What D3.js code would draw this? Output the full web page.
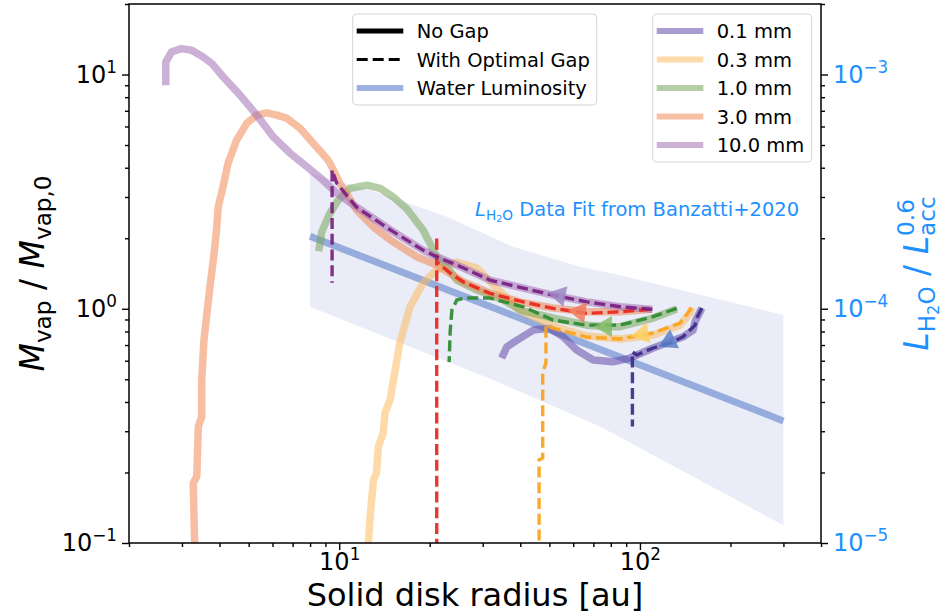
<!DOCTYPE html>
<html><head><meta charset="utf-8">
<script src="https://cdn.jsdelivr.net/npm/d3@7"></script>
<style>body{margin:0;background:#fff}text{font-family:"DejaVu Sans";}</style>
</head><body>
<svg id="c" width="948" height="615"></svg>
<script>
// ---------------- data ----------------
const sizeLabels = ["0.1 mm", "0.3 mm", "1.0 mm", "3.0 mm", "10.0 mm"];
const styleLabels = ["No Gap", "With Optimal Gap", "Water Luminosity"];

// No gap (solid) trajectories: radius [au], Mvap/Mvap0
const ng01R = [160.6, 152.5, 150.2, 139.1, 125.9, 110.6, 92.7, 81.4, 69.9, 61.6, 55.6, 50.2, 44.2, 39.9, 36.1, 34.7];
const ng01M = [1.007, 0.880, 0.811, 0.759, 0.723, 0.680, 0.616, 0.594, 0.604, 0.667, 0.759, 0.825, 0.811, 0.747, 0.688, 0.616];
const ng03R = [148.7, 146.8, 136, 110.6, 85.9, 66.6, 51.4, 39.9, 33.4, 28.7, 24.6, 21.1, 19.0, 17.2, 15.9, 14.76, 14.2, 14.0, 13.5, 13.3, 13.0, 12.7, 12.5, 12.5];
const ng03M = [1.01, 0.958, 0.851, 0.773, 0.743, 0.765, 0.844, 0.987, 1.225, 1.492, 1.582, 1.463, 1.287, 1.02, 0.714, 0.408, 0.359, 0.295, 0.258, 0.199, 0.186, 0.134, 0.1, 0.08];
const ng10R = [132.6, 110.6, 85.9, 77.6, 66.6, 51.4, 39.9, 35.1, 28.7, 24.6, 22.8, 21.1, 20.3, 19.0, 16.8, 15.1, 13.7, 12.35, 10.87, 9.93, 9.32, 8.75, 8.55];
const ng10M = [0.997, 0.913, 0.838, 0.838, 0.851, 0.913, 0.987, 1.089, 1.202, 1.326, 1.511, 1.667, 1.839, 2.17, 2.665, 3.006, 3.265, 3.37, 3.265, 2.91, 2.56, 2.13, 1.76];
const ng30R = [109.5, 85.9, 66.6, 51.4, 39.9, 31.7, 25.8, 21.1, 18.1, 14.8, 12.96, 11.43, 10.06, 9.32, 9.09, 8.18, 7.41, 6.69, 6.20, 5.74, 5.32, 4.93, 4.56, 4.27, 4.11, 3.96, 3.91, 3.83, 3.69, 3.55, 3.49, 3.49, 3.40, 3.36, 3.27, 3.32];
const ng30M = [0.994, 0.971, 0.971, 1.007, 1.07, 1.167, 1.304, 1.537, 1.667, 1.965, 2.24, 2.64, 3.43, 4.18, 4.38, 5.10, 5.90, 6.51, 6.71, 6.86, 6.71, 6.20, 5.25, 4.18, 3.32, 2.72, 2.17, 1.695, 1.144, 0.735, 0.496, 0.346, 0.314, 0.192, 0.180, 0.08];
const ng100R = [110, 86, 66.6, 51.4, 40.9, 31.7, 24.6, 21.1, 19.0, 14.8, 11.4, 9.81, 8.84, 7.80, 6.86, 6.03, 5.32, 4.68, 4.11, 3.77, 3.52, 3.23, 2.99, 2.77, 2.65, 2.65];
const ng100M = [0.994, 1.02, 1.07, 1.144, 1.225, 1.326, 1.537, 1.667, 1.78, 2.17, 2.72, 3.12, 3.54, 4.04, 4.62, 5.42, 6.71, 8.17, 9.78, 11.15, 11.9, 12.7, 12.9, 12.5, 11.3, 9.0];

// With optimal gap (dashed) trajectories
const g01R = [160.6, 154.5, 152.5, 139.1, 125.9, 110.6, 97.6, 94.4, 94.4];
const g01M = [1.007, 0.913, 0.851, 0.759, 0.714, 0.680, 0.635, 0.654, 0.314];
const g03R = [148.7, 146.8, 136, 110.6, 85.9, 66.6, 51.4, 48.7, 48.7, 47.5, 47.5, 46.2, 46.2];
const g03M = [1.01, 0.987, 0.869, 0.788, 0.743, 0.757, 0.827, 0.844, 0.586, 0.537, 0.231, 0.226, 0.08];
const g10R = [132.6, 110.6, 85.9, 66.6, 51.4, 40.9, 31.7, 26.2, 24.6, 23.7, 23.4, 23.2];
const g10M = [1.004, 0.925, 0.851, 0.851, 0.895, 1.02, 1.111, 1.111, 1.089, 0.987, 0.811, 0.592];
const g30R = [108, 85.9, 66.6, 51.4, 40.9, 31.7, 25.8, 23.4, 21.1, 21.1, 21.1];
const g30M = [0.994, 0.971, 0.956, 1.004, 1.07, 1.163, 1.304, 1.42, 1.582, 2.04, 0.08];
const g100R = [110, 86, 66.6, 51.4, 40.9, 31.7, 24.6, 21.1, 19.0, 14.8, 11.4, 9.81, 9.47, 9.47];
const g100M = [0.994, 1.02, 1.07, 1.144, 1.225, 1.326, 1.537, 1.667, 1.78, 2.17, 2.72, 3.44, 3.91, 1.29];

// direction arrows on the gap trajectories
const arrowR = [125, 102, 77, 63, 54];
const arrowM = [0.725, 0.78, 0.84, 0.968, 1.141];

// Water luminosity fit (right axis) and its band
const waterR = [8, 300];
const waterL = [2.04e-4, 3.32e-5];
const bandHiR = [8, 13.7, 22.8, 37.8, 63.2, 85.9, 300];
const bandHi = [3.79e-4, 3.11e-4, 2.47e-4, 1.84e-4, 1.51e-4, 1.39e-4, 9.4e-5];
const bandLoR = [8, 32.5, 73.7, 300];
const bandLo = [1.02e-4, 4.96e-5, 3.14e-5, 1.19e-5];

// ticks
const xMajor = [10, 100], xMajorExp = ["1", "2"];
const yMajor = [0.1, 1, 10], yMajorExp = ["\u22121", "0", "1"];
const yRMajor = [1e-5, 1e-4, 1e-3], yRMajorExp = ["\u22125", "\u22124", "\u22123"];

// ---------------- styles ----------------
const solidCol = ["#634ba8", "#fbbc61", "#78a65b", "#f08956", "#a26fb4"];
const dashCol = ["#3d2b8a", "#f9a31a", "#2b8a2e", "#e8261e", "#7a1e82"];
const arrowCol = ["#5a82c8", "#fbd064", "#86bc68", "#f07b5c", "#9c88c6"];
const blue = "#1e90ff";
const FS_TICK = 24, FS_LAB = 32, FS_LEG = 19.5;

const svg = d3.select("#c");
const L = 129, R = 821, T = 4, B = 543;
const x = d3.scaleLog().domain([2, 400]).range([L, R]);
const y = d3.scaleLog().domain([0.1, 20]).range([B, T]);
const yR = d3.scaleLog().domain([1e-5, 2e-3]).range([B, T]);

svg.append("defs").append("clipPath").attr("id", "clip")
  .append("rect").attr("x", L).attr("y", T).attr("width", R - L).attr("height", B - T);
const plot = svg.append("g").attr("clip-path", "url(#clip)");

// band
const bandPts = bandHiR.map((r, i) => [x(r), yR(bandHi[i])])
  .concat(bandLoR.map((r, i) => [x(r), yR(bandLo[i])]).reverse());
plot.append("path").attr("d", d3.line()(bandPts) + "Z").attr("fill", "#eaecf7");

// water luminosity line
const lineR = d3.line().x(d => x(d[0])).y(d => yR(d[1]));
plot.append("path").attr("d", lineR(waterR.map((r, i) => [r, waterL[i]])))
  .attr("fill", "none").attr("stroke", "#6f8ed0").attr("stroke-opacity", 0.68).attr("stroke-width", 7);

const line = d3.line().x(d => x(d[0])).y(d => y(d[1]));
const ngR = [ng01R, ng03R, ng10R, ng30R, ng100R], ngM = [ng01M, ng03M, ng10M, ng30M, ng100M];
const gR = [g01R, g03R, g10R, g30R, g100R], gM = [g01M, g03M, g10M, g30M, g100M];

ngR.forEach((rs, k) => {
  plot.append("path").attr("d", line(rs.map((r, i) => [r, ngM[k][i]])))
    .attr("fill", "none").attr("stroke", solidCol[k]).attr("stroke-opacity", 0.55)
    .attr("stroke-width", 7.5).attr("stroke-linejoin", "round");
});
gR.forEach((rs, k) => {
  plot.append("path").attr("d", line(rs.map((r, i) => [r, gM[k][i]])))
    .attr("fill", "none").attr("stroke", dashCol[k]).attr("stroke-opacity", 0.92)
    .attr("stroke-width", 3.4).attr("stroke-dasharray", "11,4.8");
});
// arrows
arrowR.forEach((ar, k) => {
  const px = x(ar), py = y(arrowM[k]);
  const pts = gR[k].map((r, i) => [x(r), y(gM[k][i])]);
  let best = 0, bd = 1e9;
  for (let i = 0; i < pts.length - 1; i++) {
    const mx = (pts[i][0] + pts[i + 1][0]) / 2, my = (pts[i][1] + pts[i + 1][1]) / 2;
    const dd = (mx - px) ** 2 + (my - py) ** 2;
    if (dd < bd && Math.abs(pts[i + 1][0] - pts[i][0]) > 1) { bd = dd; best = i; }
  }
  const ang = Math.atan2(pts[best + 1][1] - pts[best][1], pts[best + 1][0] - pts[best][0]) * 180 / Math.PI;
  plot.append("path").attr("d", d3.symbol(d3.symbolTriangle, 190)())
    .attr("transform", `translate(${px},${py}) rotate(${ang + 90})`)
    .attr("fill", arrowCol[k]).attr("fill-opacity", 0.85);
});

// ---------------- axes ----------------
function supLabels(sel, exps) {
  sel.selectAll(".tick text").each(function (d, i) {
    const t = d3.select(this); t.text(null);
    t.append("tspan").text("10");
    t.append("tspan").attr("dy", -0.42 * FS_TICK).attr("font-size", 0.7 * FS_TICK).text(exps[i]);
  });
}
function minorTicks(lo, hi) {
  const out = [];
  for (let e = Math.floor(Math.log10(lo)); e <= Math.ceil(Math.log10(hi)); e++)
    for (let m = 2; m <= 9; m++) { const v = m * Math.pow(10, e); if (v >= lo * 0.999 && v <= hi * 1.001) out.push(v); }
  return out;
}
const axStyle = g => { g.select(".domain").remove(); g.selectAll("line").attr("stroke", "#000").attr("stroke-width", 1.4); };

svg.append("g").attr("transform", `translate(0,${B})`)
  .call(d3.axisBottom(x).tickValues(minorTicks(2, 400)).tickSize(4).tickFormat("")).call(axStyle);
const xa = svg.append("g").attr("transform", `translate(0,${B})`)
  .call(d3.axisBottom(x).tickValues(xMajor).tickSize(7).tickPadding(3)).call(axStyle);
xa.selectAll("text").attr("font-size", FS_TICK).attr("fill", "#000").attr("font-family", "DejaVu Sans");
supLabels(xa, xMajorExp);

svg.append("g").attr("transform", `translate(${L},0)`)
  .call(d3.axisLeft(y).tickValues(minorTicks(0.1, 20)).tickSize(4).tickFormat("")).call(axStyle);
const ya = svg.append("g").attr("transform", `translate(${L},0)`)
  .call(d3.axisLeft(y).tickValues(yMajor).tickSize(7).tickPadding(5)).call(axStyle);
ya.selectAll("text").attr("font-size", FS_TICK).attr("fill", "#000").attr("font-family", "DejaVu Sans");
supLabels(ya, yMajorExp);

svg.append("g").attr("transform", `translate(${R},0)`)
  .call(d3.axisRight(yR).tickValues(minorTicks(1e-5, 2e-3)).tickSize(4).tickFormat("")).call(axStyle);
const yra = svg.append("g").attr("transform", `translate(${R},0)`)
  .call(d3.axisRight(yR).tickValues(yRMajor).tickSize(7).tickPadding(5)).call(axStyle);
yra.selectAll("text").attr("font-size", FS_TICK).attr("fill", blue).attr("font-family", "DejaVu Sans");
supLabels(yra, yRMajorExp);

svg.append("rect").attr("x", L).attr("y", T).attr("width", R - L).attr("height", B - T)
  .attr("fill", "none").attr("stroke", "#000").attr("stroke-width", 1.5);

// ---------------- labels ----------------
// parts: [text, italic, level, stackOnPrevious]  level 0 normal, -1 sub, -2 subsub, 1 sup
function mathText(t, parts, fs) {
  const sz = { "0": fs, "-1": 0.7 * fs, "-2": 0.49 * fs, "1": 0.7 * fs };
  const off = { "0": 0, "-1": 0.2 * fs, "-2": 0.32 * fs, "1": -0.42 * fs };
  let cur = 0, lastW = 0;
  parts.forEach(p => {
    const lv = String(p[2]);
    const ts = t.append("tspan").attr("font-size", sz[lv]).attr("dy", off[lv] - cur)
      .attr("font-style", p[1] ? "italic" : "normal").text(p[0]);
    if (p[3]) ts.attr("dx", -lastW);
    cur = off[lv];
    lastW = ts.node().getComputedTextLength();
  });
}
svg.append("text").attr("x", (L + R) / 2).attr("y", 606).attr("text-anchor", "middle")
  .attr("font-size", FS_LAB).text("Solid disk radius [au]");

const yl = svg.append("text").attr("transform", `translate(44,${(T + B) / 2}) rotate(-90)`)
  .attr("text-anchor", "middle").attr("font-size", 33);
mathText(yl, [["M", true, 0], ["vap", false, -1], [" / ", false, 0], ["M", true, 0], ["vap,0", false, -1]], 33);

const yrl = svg.append("text").attr("transform", `translate(928,${(T + B) / 2}) rotate(-90)`)
  .attr("text-anchor", "middle").attr("font-size", 33).attr("fill", blue);
mathText(yrl, [["L", true, 0], ["H", false, -1], ["2", false, -2], ["O", false, -1], [" / ", false, 0], ["L", true, 0], ["acc", false, -1], ["0.6", false, 1, true]], 33);

const ann = svg.append("text").attr("x", 475).attr("y", 216).attr("font-size", FS_LEG).attr("fill", blue);
mathText(ann, [["L", true, 0], ["H", false, -1], ["2", false, -2], ["O", false, -1], [" Data Fit from Banzatti+2020", false, 0]], FS_LEG);

// ---------------- legends ----------------
function legendBox(x0, y0, w, h) {
  svg.append("rect").attr("x", x0).attr("y", y0).attr("width", w).attr("height", h).attr("rx", 4)
    .attr("fill", "#fff").attr("fill-opacity", 0.8).attr("stroke", "#d3d3d3").attr("stroke-width", 1);
}
const rowY0 = 31, rowDY = 28.5;
legendBox(352.7, 14, 244, 91);
const leg1Style = [
  { c: "#000", w: 5, d: null, o: 1 },
  { c: "#000", w: 3.2, d: "11,5", o: 1 },
  { c: "#6f8ed0", w: 6, d: null, o: 0.68 }];
styleLabels.forEach((lab, i) => {
  const yy = rowY0 + i * rowDY, st = leg1Style[i];
  const ln = svg.append("line").attr("x1", 356.7).attr("x2", 403.3).attr("y1", yy).attr("y2", yy)
    .attr("stroke", st.c).attr("stroke-width", st.w).attr("stroke-opacity", st.o);
  if (st.d) ln.attr("stroke-dasharray", st.d);
  svg.append("text").attr("x", 416.7).attr("y", yy).attr("dy", "0.36em").attr("font-size", FS_LEG).text(lab);
});
legendBox(652.7, 14, 159, 148);
sizeLabels.forEach((lab, i) => {
  const yy = rowY0 + i * rowDY;
  svg.append("line").attr("x1", 656.7).attr("x2", 703.3).attr("y1", yy).attr("y2", yy)
    .attr("stroke", solidCol[i]).attr("stroke-opacity", 0.55).attr("stroke-width", 6);
  svg.append("text").attr("x", 716.7).attr("y", yy).attr("dy", "0.36em").attr("font-size", FS_LEG).text(lab);
});
</script>
</body></html>
